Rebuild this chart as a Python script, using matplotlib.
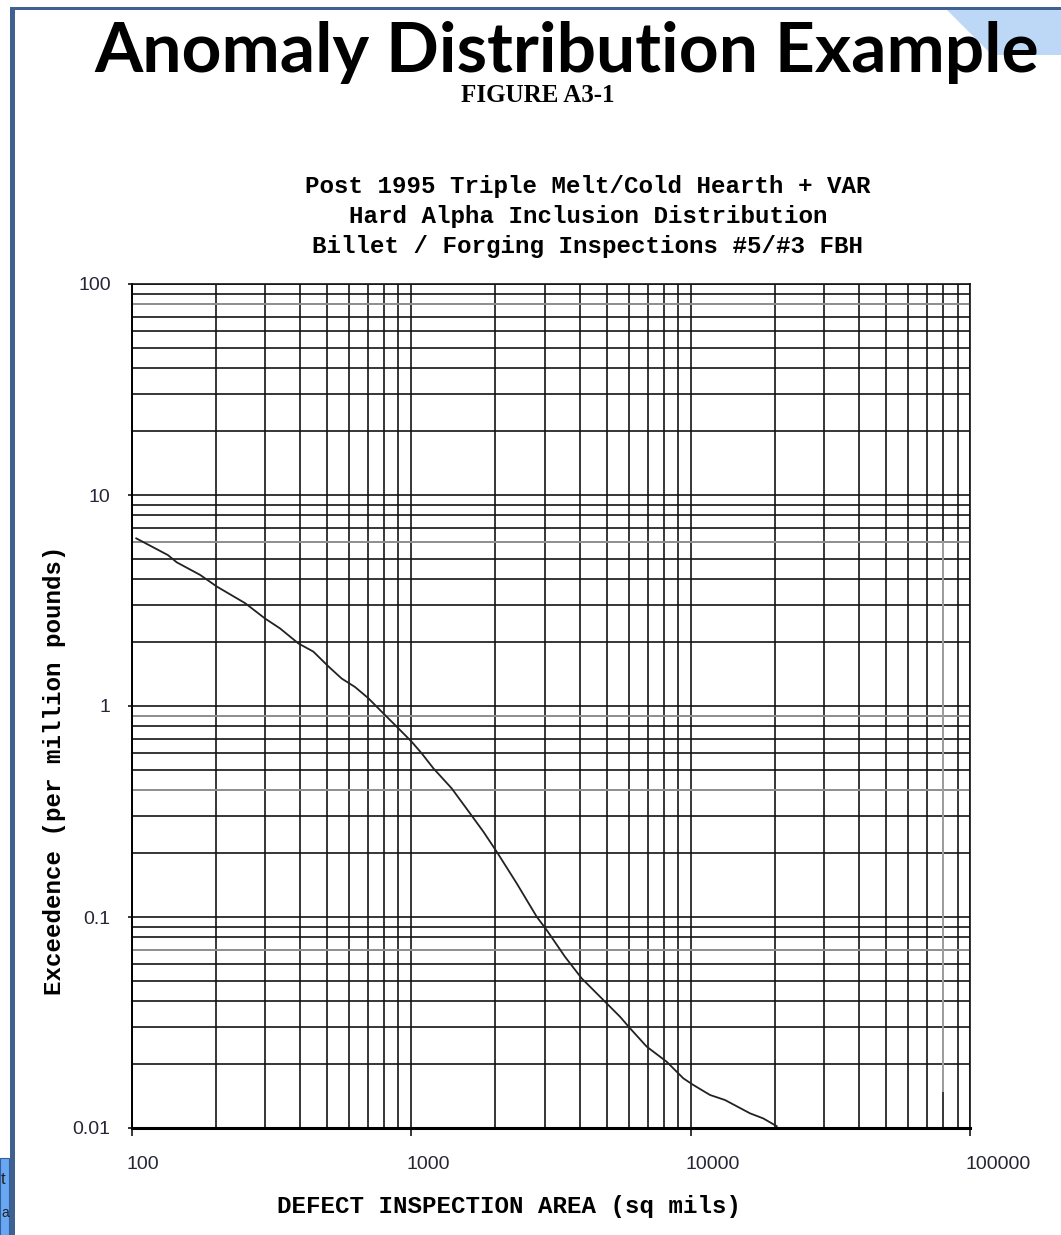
import matplotlib
matplotlib.use("Agg")
import matplotlib.pyplot as plt
import matplotlib.transforms as mtransforms
from matplotlib.patches import Polygon, Rectangle
from matplotlib.ticker import FixedLocator, NullFormatter

# Hard alpha exceedance curve
area_sq_mils = [104, 135, 145, 176, 202, 255, 300, 340, 395, 447, 506, 564,
                630, 703, 795, 900, 1004, 1090, 1200, 1396, 1623, 1811, 2022,
                2384, 2811, 3051, 3548, 4071, 4932, 5580, 6060, 6954, 8200,
                9397, 10200, 11710, 13250, 16270, 18160, 20280]
exceedance = [6.23, 5.19, 4.80, 4.18, 3.68, 3.07, 2.60, 2.33, 1.98, 1.81, 1.54,
              1.35, 1.23, 1.088, 0.923, 0.784, 0.677, 0.597, 0.507, 0.407,
              0.310, 0.254, 0.204, 0.1444, 0.1003, 0.0868, 0.0648, 0.0512,
              0.0397, 0.0337, 0.0297, 0.0243, 0.0206, 0.0172, 0.0160, 0.01434,
              0.01357, 0.01174, 0.0111, 0.0102]

x_ticks = [100, 1000, 10000, 100000]
x_tick_labels = ["100", "1000", "10000", "100000"]
y_ticks = [0.01, 0.1, 1, 10, 100]
y_tick_labels = ["0.01", "0.1", "1", "10", "100"]

# grid lines that came out faded in the scan
faded_rows = [80, 6, 0.9, 0.4, 0.07]
faded_col = 80000
faded_col_span = (0.015, 6)

slide_title = "Anomaly Distribution Example"
figure_tag = "FIGURE A3-1"
chart_title = ["Post 1995 Triple Melt/Cold Hearth + VAR",
               "Hard Alpha Inclusion Distribution",
               "Billet / Forging Inspections #5/#3 FBH"]
x_label = "DEFECT INSPECTION AREA (sq mils)"
y_label = "Exceedence (per million pounds)"

W, H = 1061, 1235
fig = plt.figure(figsize=(W / 100, H / 100), dpi=100)
fig.patch.set_facecolor("white")

# slide decorations
px = lambda x, y: (x / W, 1 - y / H)
fig.patches.append(Polygon([px(945, 8), px(1061, 8), px(1061, 55), px(992, 55)],
                           closed=True, transform=fig.transFigure,
                           facecolor="#bdd7f7", edgecolor="none", zorder=0))
fig.patches.append(Rectangle(px(10, 1235), 5 / W, 1227 / H, transform=fig.transFigure,
                             facecolor="#3e6191", edgecolor="none", zorder=1))
fig.patches.append(Rectangle(px(10, 10), 1051 / W, 3 / H, transform=fig.transFigure,
                             facecolor="#3e6191", edgecolor="none", zorder=1))
fig.patches.append(Rectangle(px(0, 1235), 9 / W, 77 / H, transform=fig.transFigure,
                             facecolor="#6aa7f2", edgecolor="#2f5f9e", lw=0.8, zorder=1))
fig.text(1 / W, 1 - 1180 / H, "t", fontsize=12, color="#222", va="center",
         family="Liberation Sans", zorder=2)
fig.text(1 / W, 1 - 1213 / H, "a", fontsize=10, color="#222", va="center",
         family="Liberation Sans", zorder=2)

fig.text(567 / W, 1 - 72 / H, slide_title, ha="center", va="baseline",
         fontsize=50, fontweight="bold", family="Lato", zorder=3)
fig.text(538 / W, 1 - 102 / H, figure_tag, ha="center", va="baseline",
         fontsize=18, fontweight="bold", family="Liberation Serif")
for i, line in enumerate(chart_title):
    fig.text(588 / W, 1 - (186 + 30.5 * i) / H, line, ha="center", va="center",
             fontsize=17.4, fontweight="bold", family="Liberation Mono")

ax = fig.add_axes([131.5 / W, 1 - 1128 / H, 839 / W, 844 / H])
ax.set_xscale("log")
ax.set_yscale("log")
ax.set_xlim(100, 100000)
ax.set_ylim(0.01, 100)

grid_kw = dict(color="#141414", lw=1.2)
ax.xaxis.set_minor_locator(FixedLocator([m * 10 ** e for e in (2, 3, 4) for m in range(2, 10)]))
ax.yaxis.set_minor_locator(FixedLocator([m * 10 ** e for e in (-2, -1, 0, 1) for m in range(2, 10)]))
ax.xaxis.set_minor_formatter(NullFormatter())
ax.yaxis.set_minor_formatter(NullFormatter())
ax.grid(True, which="both", **grid_kw)
ax.set_axisbelow(True)

for yv in faded_rows:
    ax.axhline(yv, color="#9a9a9a", lw=1.3, zorder=1.5)
ax.plot([faded_col, faded_col], faded_col_span, color="#a0a0a0", lw=1.4, zorder=1.5)

ax.plot(area_sq_mils, exceedance, color="#222222", lw=1.3, zorder=3)

ax.set_xticks(x_ticks)
ax.set_xticklabels(x_tick_labels)
ax.set_yticks(y_ticks)
ax.set_yticklabels(y_tick_labels)
ax.tick_params(axis="x", which="major", length=6, width=1.2, pad=14,
               labelsize=14, labelcolor="#262636", color="#141414")
ax.tick_params(axis="y", which="major", length=3, width=1.2, pad=12,
               labelsize=14, labelcolor="#262636", color="#141414")
ax.tick_params(which="minor", length=0)
for lbl in ax.get_xticklabels() + ax.get_yticklabels():
    lbl.set_family("Liberation Sans")
offset = mtransforms.ScaledTranslation(-5 / 100, 0, fig.dpi_scale_trans)
for lbl in ax.get_xticklabels():
    lbl.set_ha("left")
    lbl.set_transform(lbl.get_transform() + offset)

for side in ("top", "right"):
    ax.spines[side].set_linewidth(1.2)
    ax.spines[side].set_color("#141414")
ax.spines["left"].set_linewidth(1.4)
ax.spines["bottom"].set_linewidth(2.2)

ax.set_xlabel(x_label, fontsize=17.4, fontweight="bold", family="Liberation Mono",
              va="center")
ax.xaxis.set_label_coords((509 - 131.5) / 839, (1128 - 1206) / 844)
ax.set_ylabel(y_label, fontsize=17.4, fontweight="bold", family="Liberation Mono",
              va="center")
ax.yaxis.set_label_coords((55 - 131.5) / 839, (1128 - 770) / 844)

fig.savefig("out.png", dpi=100, facecolor="white")
